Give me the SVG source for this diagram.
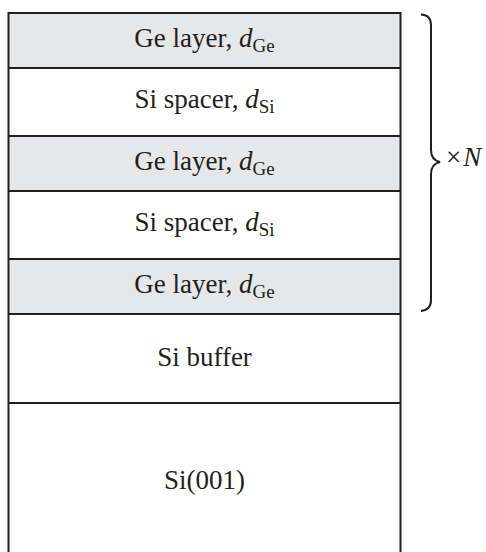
<svg xmlns="http://www.w3.org/2000/svg" width="486" height="552" viewBox="0 0 486 552">
<style>
.ge{fill:#e6e7e8;stroke:none}
.ln{stroke:#231f20;stroke-width:2;fill:none}
.t{font-family:"Liberation Serif","Times New Roman",serif;font-size:27px;fill:#231f20;text-anchor:middle}
.i{font-style:italic}
.s{font-size:19px}
</style>
<rect width="486" height="552" fill="#ffffff"/>
<g id="ge1"><rect class="ge" x="8.5" y="13" width="392" height="55"/><text class="t" x="204.5" y="46.5">Ge layer, <tspan class="i">d</tspan><tspan class="s" dy="5">Ge</tspan></text></g>
<g id="si1"><text class="t" x="204.5" y="108">Si spacer, <tspan class="i">d</tspan><tspan class="s" dy="5">Si</tspan></text></g>
<g id="ge2"><rect class="ge" x="8.5" y="136" width="392" height="55"/><text class="t" x="204.5" y="169.5">Ge layer, <tspan class="i">d</tspan><tspan class="s" dy="5">Ge</tspan></text></g>
<g id="si2"><text class="t" x="204.5" y="231">Si spacer, <tspan class="i">d</tspan><tspan class="s" dy="5">Si</tspan></text></g>
<g id="ge3"><rect class="ge" x="8.5" y="259" width="392" height="55"/><text class="t" x="204.5" y="292.5">Ge layer, <tspan class="i">d</tspan><tspan class="s" dy="5">Ge</tspan></text></g>
<g id="buffer"><text class="t" x="204.5" y="366">Si buffer</text></g>
<g id="substrate"><text class="t" x="204.5" y="489">Si(001)</text></g>
<g id="frame">
<path class="ln" d="M8.5 552V13H400.5V552"/>
<path class="ln" d="M8.5 68H400.5M8.5 136H400.5M8.5 191H400.5M8.5 259H400.5M8.5 314H400.5M8.5 403H400.5"/>
</g>
<g id="repeat">
<path class="ln" d="M421 14.5Q431 15 431 25V150Q431 160 440 162Q431 164 431 174V300Q431 310 421 311"/>
<text class="t" x="446" y="166" style="text-anchor:start">×<tspan class="i" dx="2">N</tspan></text>
</g>
</svg>
